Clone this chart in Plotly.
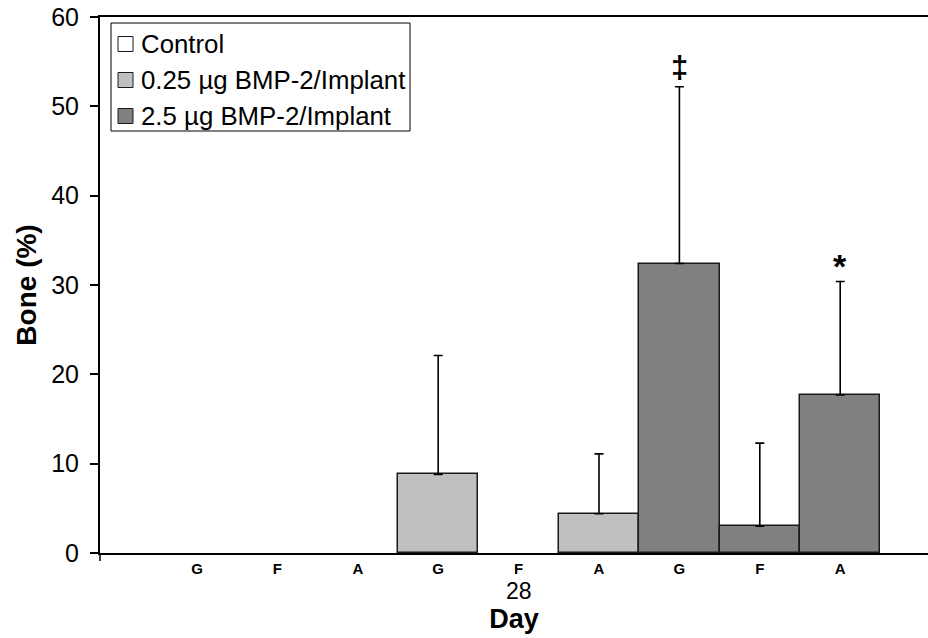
import plotly.graph_objects as go

categories = ["G", "F", "A", "G", "F", "A", "G", "F", "A"]
series_names = ["Control", "0.25 µg BMP-2/Implant", "2.5 µg BMP-2/Implant"]
series_idx = [[0, 1, 2], [3, 4, 5], [6, 7, 8]]
series_vals = [[0, 0, 0], [8.8, 0, 4.4], [32.4, 3.0, 17.7]]
series_err = [[None, None, None], [13.3, None, 6.7], [19.8, 9.3, 12.7]]
series_colors = ["#FFFFFF", "#C0C0C0", "#808080"]
day_label = "28"
marks = [(6, 54.4, "‡"), (8, 32.1, "*")]

FONT = "Liberation Sans, Arial, sans-serif"
W, H = 928, 638
ML, MR, MT, MB = 100, 0, 17, 85
PW, PH = W - ML - MR, H - MT - MB


def px_x(p):
    return (p - ML) / PW


def px_y(p):
    return (H - MB - p) / PH


fig = go.Figure()
for name, idx, vals, col in zip(series_names, series_idx, series_vals, series_colors):
    fig.add_trace(go.Bar(
        x=idx, y=vals, name=name, width=1, showlegend=False,
        marker=dict(color=col, line=dict(color="#1a1a1a", width=[1.5 if v else 0 for v in vals])),
    ))

# upper error bars only where the series has an error value
for idx, vals, err in zip(series_idx, series_vals, series_err):
    pts = [(i, v, e) for i, v, e in zip(idx, vals, err) if e is not None]
    if not pts:
        continue
    fig.add_trace(go.Scatter(
        x=[p[0] for p in pts], y=[p[1] for p in pts], mode="markers",
        marker=dict(size=1, opacity=0), showlegend=False, hoverinfo="skip",
        error_y=dict(type="data", symmetric=False, array=[p[2] for p in pts],
                     arrayminus=[0] * len(pts), color="black", thickness=1.6, width=4.5),
    ))

for xv, yv, txt in marks:
    fig.add_annotation(x=xv, y=yv, text="<b>" + txt + "</b>", showarrow=False,
                       font=dict(family=FONT, size=31 if txt != "*" else 34, color="black"))

fig.add_annotation(x=4, y=px_y(591), yref="paper", text=day_label, showarrow=False,
                   font=dict(family=FONT, size=23, color="black"), yanchor="middle")

# small tick at the start of the category axis
fig.add_shape(type="line", xref="paper", yref="paper", x0=0, x1=0, y0=0, y1=px_y(561),
              line=dict(color="black", width=1.5))

# legend box drawn from the series names and colours
fig.add_shape(type="rect", xref="paper", yref="paper",
              x0=px_x(111), x1=px_x(410), y0=px_y(23), y1=px_y(131),
              line=dict(color="black", width=1), fillcolor="white", layer="above")
for i, (name, col) in enumerate(zip(series_names, series_colors)):
    cy = 44 + i * 36
    fig.add_shape(type="rect", xref="paper", yref="paper",
                  x0=px_x(118), x1=px_x(133), y0=px_y(cy - 7.5), y1=px_y(cy + 7.5),
                  line=dict(color="#1a1a1a", width=1), fillcolor=col, layer="above")
    fig.add_annotation(x=px_x(139), y=px_y(cy), xref="paper", yref="paper", text=name,
                       showarrow=False, xanchor="left", yanchor="middle",
                       font=dict(family=FONT, size=25.8, color="black"))

x0_px, step_px = 197.0, 80.4
fig.update_layout(
    width=W, height=H,
    margin=dict(l=ML, r=MR, t=MT, b=MB),
    paper_bgcolor="white", plot_bgcolor="white",
    barmode="overlay", bargap=0,
    font=dict(family=FONT, color="black"),
    showlegend=False,
    xaxis=dict(
        range=[(ML - x0_px) / step_px, (W - MR - x0_px) / step_px],
        tickmode="array", tickvals=list(range(len(categories))), ticktext=categories,
        tickfont=dict(family=FONT, size=15, color="black", weight="bold"),
        ticks="", ticklabelstandoff=1, showline=True, linecolor="black", linewidth=2, mirror=True,
        showgrid=False, zeroline=False,
        title=dict(text="<b>Day</b>", font=dict(family=FONT, size=27, color="black"), standoff=33),
    ),
    yaxis=dict(
        range=[0, 60], dtick=10, ticks="outside", ticklen=8, tickwidth=1.5, tickcolor="black",
        tickfont=dict(family=FONT, size=25, color="black"), ticklabelstandoff=6,
        showline=True, linecolor="black", linewidth=2, showgrid=False, zeroline=False,
        title=dict(text="<b>Bone (%)</b>", font=dict(family=FONT, size=28, color="black"), standoff=6),
    ),
)

fig.write_html("out.html")
